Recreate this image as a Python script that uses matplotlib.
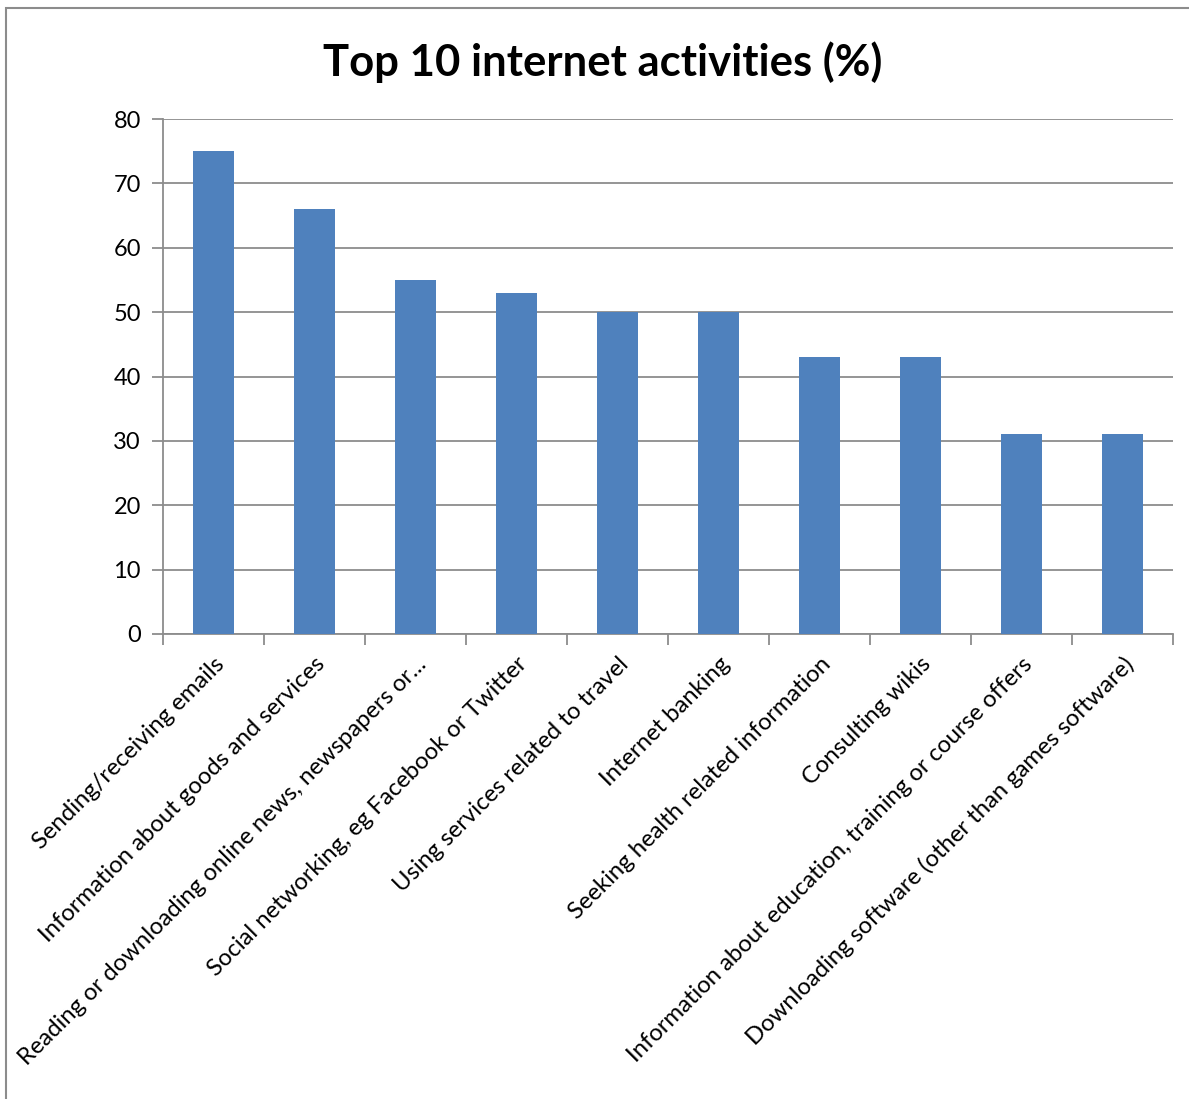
import matplotlib.pyplot as plt
from matplotlib.patches import Rectangle
import numpy as np

# Share of internet users doing each activity (%)
activities = [
    "Sending/receiving emails",
    "Information about goods and services",
    "Reading or downloading online news, newspapers or...",
    "Social networking, eg Facebook or Twitter",
    "Using services related to travel",
    "Internet banking",
    "Seeking health related information",
    "Consulting wikis",
    "Information about education, training or course offers",
    "Downloading software (other than games software)",
]
shares = [75, 66, 55, 53, 50, 50, 43, 43, 31, 31]
y_ticks = [0, 10, 20, 30, 40, 50, 60, 70, 80]

plt.rcParams["font.family"] = ["Lato", "DejaVu Sans"]

fig = plt.figure(figsize=(11.89, 10.99), dpi=100)
fig.patch.set_facecolor("white")

# chart frame (runs off the right and bottom edge)
fig.patches.append(Rectangle((6 / 1189, -0.05), 1.2, 1 - 8 / 1099 + 0.05,
                             transform=fig.transFigure, fill=False,
                             edgecolor="#8c8c8c", linewidth=1.5))

ax = fig.add_axes([163 / 1189, 1 - 634 / 1099, 1010 / 1189, 515 / 1099])
x = np.arange(len(activities))
ax.bar(x, shares, width=0.4, color="#4f81bd", zorder=3)

ax.set_xlim(-0.5, len(activities) - 0.5)
ax.set_ylim(0, 80)
ax.set_yticks(y_ticks)
ax.yaxis.grid(True, color="#8c8c8c", linewidth=1.3, zorder=0)
ax.tick_params(axis="y", length=8, width=1.3, color="#8c8c8c", labelsize=17, pad=8)

# category boundaries get the ticks, labels sit under the bars
ax.set_xticks(np.arange(len(activities) + 1) - 0.5)
ax.set_xticklabels([])
ax.tick_params(axis="x", length=8, width=1.3, color="#8c8c8c")
ax.set_xticks(x, minor=True)
ax.set_xticklabels(activities, minor=True, rotation=45, ha="right",
                   rotation_mode="anchor", fontsize=17.2)
ax.tick_params(axis="x", which="minor", length=0, pad=14)

for side in ("top", "right"):
    ax.spines[side].set_visible(False)
for side in ("left", "bottom"):
    ax.spines[side].set_color("#8c8c8c")
    ax.spines[side].set_linewidth(1.3)

fig.text(603 / 1189, 1 - 62 / 1099, "Top 10 internet activities (%)",
         ha="center", va="center", fontsize=31.4, fontweight="bold")

fig.savefig("out.png", dpi=100)
